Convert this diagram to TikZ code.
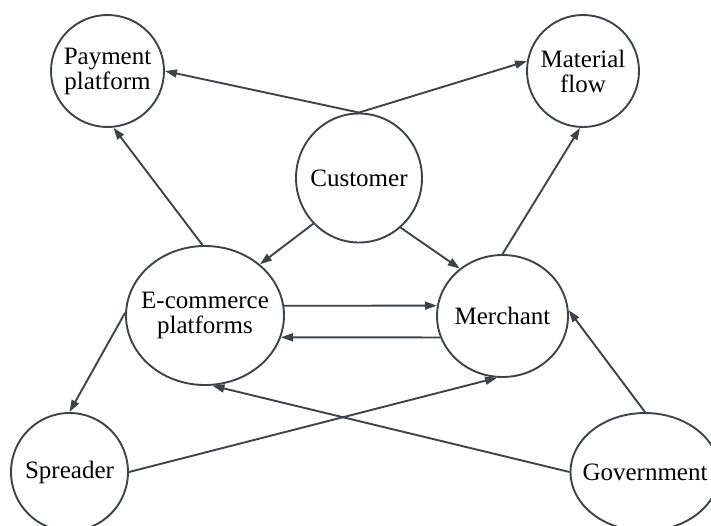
\documentclass[tikz,border=0pt]{standalone}
\usepackage{fontspec}
\setmainfont{Liberation Serif}
\usepackage{tikz}
\usetikzlibrary{arrows.meta,shapes.geometric}
\usepackage{xcolor}
\definecolor{ink}{HTML}{3F4347}

\begin{document}
\begin{tikzpicture}[x=0.5pt, y=-0.5pt,
    agent/.style={draw=ink, line width=0.95pt, ellipse, fill=white, inner sep=0pt,
        label={[align=center, inner sep=0pt, font=\fontsize{12.5}{12.5}\selectfont]center:#1}},
    flow/.style={draw=ink, line width=0.95pt, -{Triangle[length=6pt, width=4pt]}}]
    \clip (0,0) rectangle (711,525);

    % actors of the market
    \node[agent={Payment\\platform}, minimum width=56.5pt, minimum height=56pt] (pay) at (107.5,71) {};
    \node[agent={Material\\flow}, minimum width=56pt, minimum height=56pt] (mat) at (583,71) {};
    \node[agent=Customer, minimum width=63pt, minimum height=64.5pt] (cust) at (359,178) {};
    \node[agent={E-commerce\\platforms}, minimum width=79pt, minimum height=69.5pt] (ecom) at (205,315.5) {};
    \node[agent=Merchant, minimum width=65.5pt, minimum height=61pt] (merch) at (502.5,316) {};
    \node[agent=Spreader, minimum width=58.5pt, minimum height=59pt] (spread) at (69.5,472) {};
    \node[agent=Government, minimum width=74.5pt, minimum height=59pt] (gov) at (645,472) {};

    % customer links
    \draw[flow] (cust.north) -- (pay.east);
    \draw[flow] (cust.north) -- (mat.170);
    \draw[flow] (cust.-135) -- (ecom.43);
    \draw[flow] (cust.-50) -- (merch.132);

    % platform and merchant
    \draw[flow] (ecom.92) -- (pay.-84);
    \draw[flow] (merch.north) -- (mat.-93);
    \draw[flow] (ecom.7) -- (merch.171);
    \draw[flow] (merch.199) -- (ecom.-16);
    \draw[flow] (ecom.178) -- (spread.north);

    % spreader and government
    \draw[flow] (spread.east) -- (merch.-95);
    \draw[flow] (gov.west) -- (ecom.-84);
    \draw[flow] (gov.north) -- (merch.5);
\end{tikzpicture}
\end{document}
